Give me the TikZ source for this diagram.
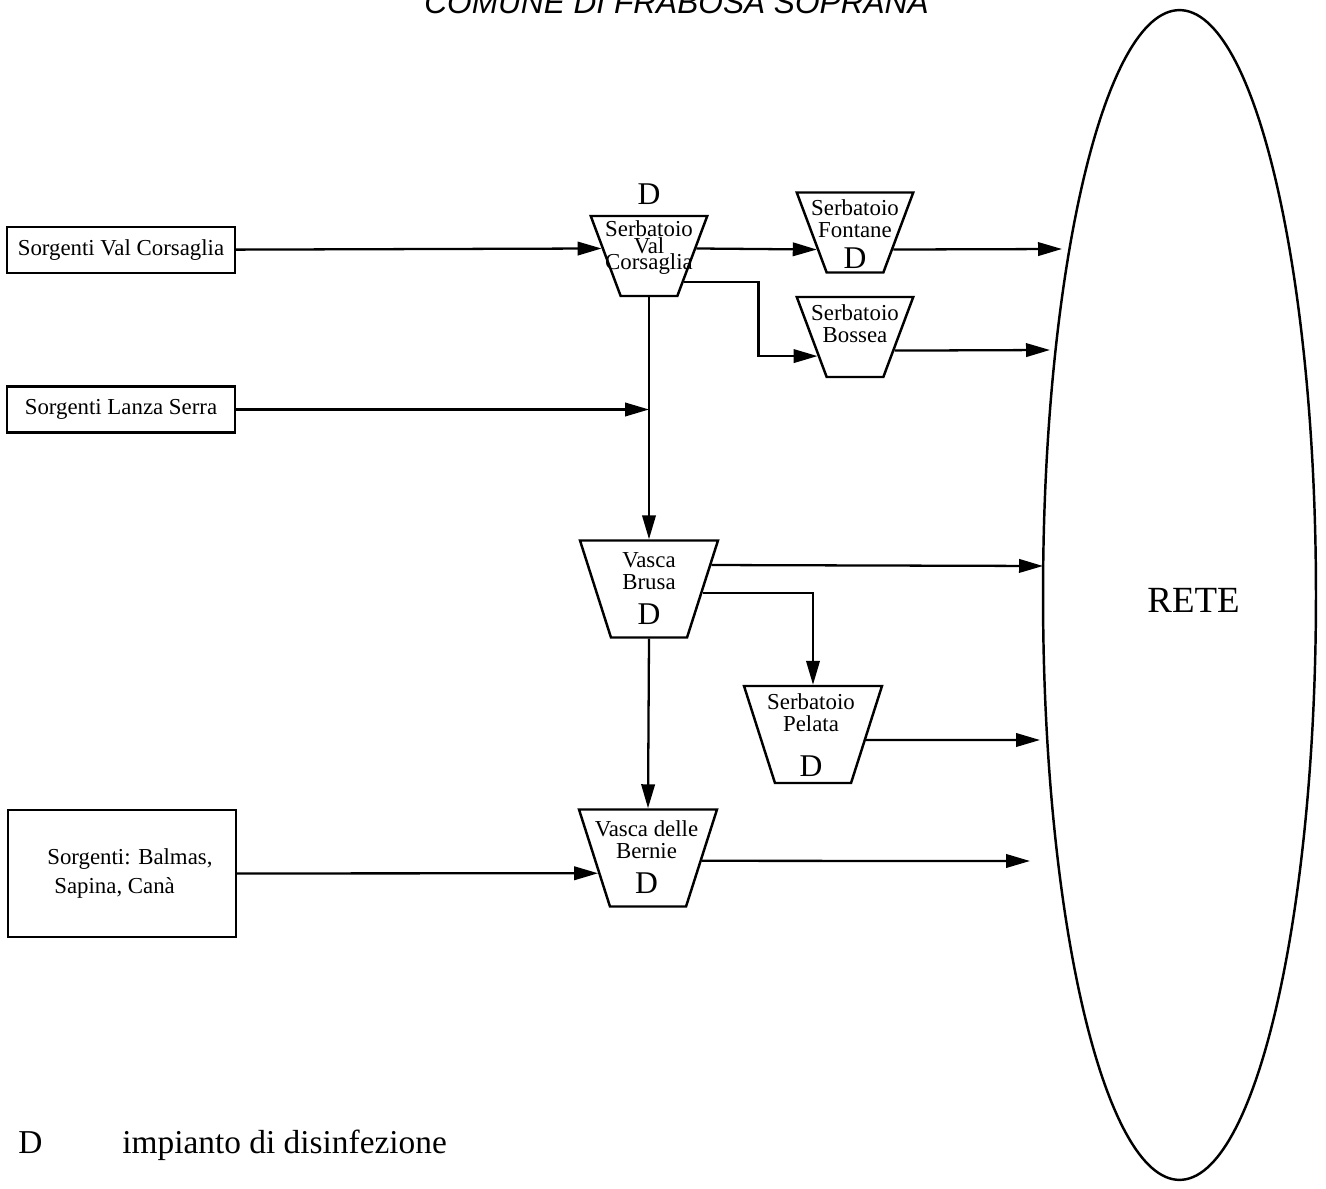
\documentclass[tikz,border=0pt]{standalone}
\usepackage{fontspec}
\setmainfont{Liberation Serif}
\newfontfamily\titlefont{Liberation Sans}
\usetikzlibrary{shapes.geometric,arrows.meta,positioning}

\newcommand{\dsym}{{\fontsize{18pt}{20pt}\selectfont D}}

\tikzset{
  source/.style={draw,line width=1.4pt,minimum width=4.56cm,minimum height=0.92cm,inner sep=0pt,
    font=\fontsize{13pt}{12.5pt}\selectfont},
  tank/.style={draw,line width=1.4pt,trapezium,shape border rotate=180,trapezium stretches=false},
  small tank/.style={tank,trapezium angle=69.5,inner xsep=0.567cm,inner ysep=0.8cm},
  big tank/.style={tank,trapezium angle=72.3,inner xsep=0.761cm,inner ysep=0.97cm},
  tanktext/.style={align=center,inner sep=0pt,font=\fontsize{13pt}{12.5pt}\selectfont},
  flow/.style={line width=1.3pt,-{Triangle[length=0.48cm,width=0.27cm]}},
}

\begin{document}
\begin{tikzpicture}[x=0.02cm,y=-0.02cm]
\useasboundingbox (0,0) rectangle (1326,1189);

\node[anchor=base,inner sep=0pt,font=\titlefont\itshape\fontsize{18pt}{20pt}\selectfont] (titolo) at (676.5,14) {COMUNE DI FRABOSA SOPRANA};

% sorgenti
\node[source] (sorg1) at (121,250) {Sorgenti Val Corsaglia};
\node[source] (sorg2) at (121,409.5) {Sorgenti Lanza Serra};
\node[source,minimum height=2.54cm,align=left] (sorg3) at (122,873.5) {\hspace*{9pt}Sorgenti: Balmas,\\[4.5pt]\hspace*{13pt}Sapina, Canà};

% serbatoi e vasche
\node[small tank] (svc) at (649,256) {};
\node[tanktext] (svc-t) at (649,248) {Serbatoio\\[-2.8pt]Val\\[-3.4pt]Corsaglia};
\node[inner sep=0pt] (svc-d) at (649,194) {\dsym};

\node[small tank] (fontane) at (855,232.5) {};
\node[tanktext] (fontane-t) at (855,234) {Serbatoio\\Fontane\\[5pt]\dsym};

\node[small tank] (bossea) at (855,337) {};
\node[tanktext] (bossea-t) at (855,323.5) {Serbatoio\\Bossea};

\node[big tank] (brusa) at (649,589) {};
\node[tanktext] (brusa-t) at (649,589) {Vasca\\Brusa\\[7.4pt]\dsym};

\node[big tank] (pelata) at (813,734.5) {};
\node[tanktext] (pelata-t) at (811,735) {Serbatoio\\Pelata\\[13pt]\dsym};

\node[big tank] (bernie) at (648,858) {};
\node[tanktext] (bernie-t) at (646.5,857.5) {Vasca delle\\Bernie\\[7.4pt]\dsym};

% rete
\node[draw,ellipse,line width=1.4pt,minimum width=5.46cm,minimum height=23.4cm,inner sep=0pt] (rete) at (1179.5,595) {};
\node[inner sep=0pt,font=\fontsize{21pt}{24pt}\selectfont] (rete-t) at (1193.5,600.5) {RETE};
\coordinate (r1) at (1062,249);
\coordinate (r2) at (1050,350);
\coordinate (r3) at (1043,566);
\coordinate (r4) at (1040,740);
\coordinate (r5) at (1030,861);

% collegamenti
\draw[flow] (sorg1) -- (svc.171);
\draw[flow] (svc.9) -- (fontane.204);
\draw[flow] (svc.-37) -| ([xshift=-1.18cm]bossea.207) -- (bossea.207);
\draw[flow] (fontane.-24) -- (r1);
\draw[flow] (bossea.-19) -- (r2);
\draw[flow] (sorg2) -- (sorg2 -| svc.south);
\draw[flow] (svc.south) -- (brusa.north);
\draw[flow] (brusa.21) -- (r3);
\draw[flow] (brusa.-4) -| (pelata.north);
\draw[flow] (pelata.-6) -- (r4);
\draw[flow] (brusa.south) -- (bernie.north);
\draw[flow] (sorg3) -- (bernie.197);
\draw[flow] (bernie.-3) -- (r5);

% legenda
\node[anchor=base west,inner sep=0pt,font=\fontsize{19pt}{21pt}\selectfont] (leg-d) at (18,1153) {D};
\node[anchor=base west,inner sep=0pt,font=\fontsize{19pt}{21pt}\selectfont] (leg-t) at (122,1153) {impianto di disinfezione};
\end{tikzpicture}
\end{document}
